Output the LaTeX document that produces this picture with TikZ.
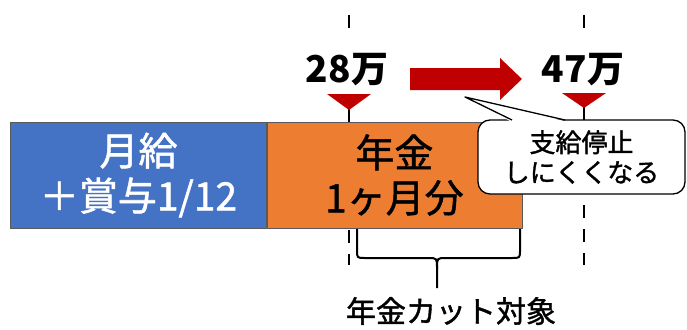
\documentclass[tikz,border=0pt]{standalone}
\usepackage{fontspec}
\setmainfont{Noto Sans CJK JP}
\newfontfamily\jpmedium[FakeBold=1.3]{Noto Sans CJK JP}
\usetikzlibrary{arrows.meta,positioning}

\definecolor{payblue}{HTML}{4472C4}
\definecolor{pensionorange}{HTML}{ED7D31}
\definecolor{markred}{HTML}{C00000}

\begin{document}
\begin{tikzpicture}[
    x = 1pt, y = -1pt, % one unit per pixel, y going down
    line join = round,
    semithick % line style
    ]

    \tikzset{
    bar/.style = {
    draw = black!65,
    thin,
    minimum width = 256pt,
    minimum height = 106pt,
    inner sep = 0pt,
    align = center,
    font = \jpmedium\fontsize{39}{45}\selectfont
    },
    guide/.style = {line width = 2.5pt, dash pattern = on 13pt off 11pt},
    stem/.style = {line width = 2.5pt},
    amount/.style = {font = \bfseries\fontsize{37}{37}\selectfont},
    bubble/.style = {
    draw = black,
    line width = 1.3pt,
    fill = white,
    rounded corners = 12pt,
    minimum width = 207pt,
    minimum height = 74pt,
    align = center,
    font = \jpmedium\fontsize{26}{30}\selectfont
    }
    }

    \useasboundingbox (0,0) rectangle (687,329);

    % thresholds
    \coordinate (t28) at (349,0);
    \coordinate (t47) at (584,0);
    \draw[guide] (t28) ++(0,15) -- ++(0,13);
    \draw[guide] (t47) ++(0,15) -- ++(0,13);
    \draw[stem] (t28) ++(0,104) -- ++(0,18);
    \draw[stem] (t47) ++(0,104) -- ++(0,16);

    % salary and pension bars
    \node[bar, fill=payblue, text=white] (pay) at (138.5,175) {月給\\＋賞与1/12};
    \node[bar, fill=pensionorange, minimum width=255pt, right=0pt of pay] (pension) {年金\\1ヶ月分};

    \draw[guide] (t28) ++(0,230) -- ++(0,35);
    \draw[guide] (t47) ++(0,205) -- ++(0,60);

    % markers
    \fill[markred] (t28) ++(-22,94) -- ++(44,0) -- ++(-22,16) -- cycle;
    \fill[markred] (t47) ++(-22,93) -- ++(44,0) -- ++(-22,15) -- cycle;
    \node[amount] (v28) at (347,70) {28万};
    \node[amount] (v47) at (583,70) {47万};

    % shift to the right
    \fill[markred] (410,68) -- (500,68) -- (500,58) -- (522,79)
        -- (500,100) -- (500,90) -- (410,90) -- cycle;

    % callout
    \node[bubble] (note) at (581.5,157) {支給停止\\しにくくなる};
    \coordinate (tip) at (465,97);
    \fill[white] (511,121.5) -- (tip) -- (566,121.5) -- cycle;
    \draw[line width=1.3pt] (512,120) -- (tip) -- (565,120);

    % brace under the cut part
    \draw[line width=2pt] (357,229) -- (357,250) .. controls (357,258) .. (365,258)
        -- (428,258) .. controls (437,258) .. (437,268) -- (437,288);
    \draw[line width=2pt] (520,229) -- (520,250) .. controls (520,258) .. (512,258)
        -- (446,258) .. controls (437,258) .. (437,268);
    \node[font=\jpmedium\fontsize{30}{30}\selectfont] (cut) at (451,311) {年金カット対象};
\end{tikzpicture}
\end{document}
